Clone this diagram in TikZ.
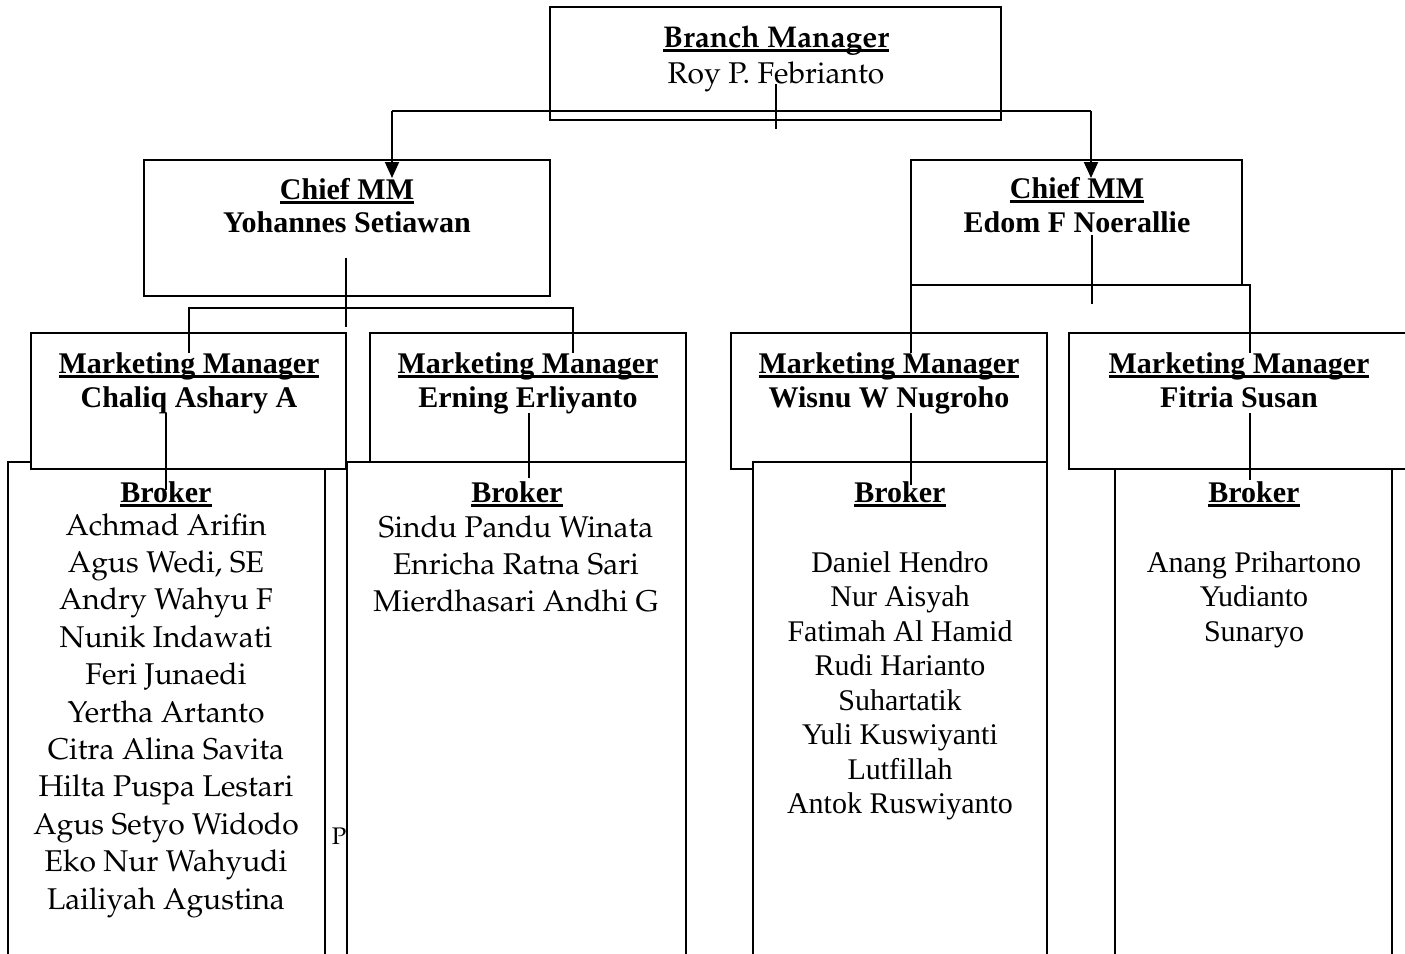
\documentclass[tikz,border=0pt]{standalone}
\usepackage[T1]{fontenc}
\usepackage{fontspec}
\setmainfont{Liberation Serif}
\usetikzlibrary{arrows.meta}

\IfFileExists{t1ppl.fd}
  {\newcommand{\pala}{\fontencoding{T1}\fontfamily{ppl}\selectfont}}
  {\newfontfamily{\pala}[FakeStretch=1.08]{Liberation Serif}}
\newcommand{\undl}[1]{\setbox0=\hbox{#1}\rlap{\copy0}\rule[-2.4pt]{\wd0}{1.2pt}}

\tikzset{
  box/.style={draw, line width=1pt, fill=white, inner sep=0pt},
  txt/.style={anchor=base, inner sep=0pt, font=\fontsize{15}{18}\selectfont},
  pal/.style={anchor=base, inner sep=0pt, font=\pala\fontsize{15}{18}\selectfont},
  link/.style={line width=1pt},
  arr/.style={line width=1pt, -{Triangle[length=8pt,width=7pt]}},
}

\begin{document}
\begin{tikzpicture}[x=0.5pt, y=-0.5pt]
\useasboundingbox (0,0) rectangle (1405,954);
\clip (0,0) rectangle (1405,954);

% Draw the boxes
\node[box, minimum width=225.5pt, minimum height=56.5pt] (bm) at (775.5,63.5) {};
\node[box, minimum width=203pt, minimum height=68pt] (cmL) at (347,228) {};
\node[box, minimum width=165.5pt, minimum height=62.5pt] (cmR) at (1076.5,222.5) {};
\node[box, minimum width=158.5pt, minimum height=254pt] (br1) at (166.5,716) {};
\node[box, minimum width=157.5pt, minimum height=68pt] (mm1) at (188.5,401) {};
\node[box, minimum width=158pt, minimum height=64.5pt] (mm2) at (528,397.5) {};
\node[box, minimum width=169.5pt, minimum height=254pt] (br2) at (516.5,716) {};
\node[box, minimum width=158pt, minimum height=68pt] (mm3) at (889,401) {};
\node[box, minimum width=147pt, minimum height=254pt] (br3) at (900,716) {};
\node[box, minimum width=175.5pt, minimum height=68pt] (mm4) at (1244.5,401) {};
\node[box, minimum width=138.5pt, minimum height=250.5pt] (br4) at (1253.5,719.5) {};

% Titles and names
\node[pal] (bmT) at (776,47) {\bfseries\undl{Branch Manager}};
\node[pal] (bmN) at (776,83) {Roy P. Febrianto};
\node[txt] (cmLT) at (347,199) {\bfseries\undl{Chief MM}};
\node[txt] (cmLN) at (347,232) {\bfseries Yohannes Setiawan};
\node[txt] (cmRT) at (1077,198) {\bfseries\undl{Chief MM}};
\node[txt] (cmRN) at (1077,232) {\bfseries Edom F Noerallie};
\node[txt] (mm1T) at (189,373) {\bfseries\undl{Marketing Manager}};
\node[txt] (mm1N) at (189,407) {\bfseries Chaliq Ashary A};
\node[txt] (mm2T) at (528,373) {\bfseries\undl{Marketing Manager}};
\node[txt] (mm2N) at (528,407) {\bfseries Erning Erliyanto};
\node[txt] (mm3T) at (889,373) {\bfseries\undl{Marketing Manager}};
\node[txt] (mm3N) at (889,407) {\bfseries Wisnu W Nugroho};
\node[txt] (mm4T) at (1239,373) {\bfseries\undl{Marketing Manager}};
\node[txt] (mm4N) at (1239,407) {\bfseries Fitria Susan};
\node[txt] (br1T) at (166,502) {\bfseries\undl{Broker}};
\node[txt] (br2T) at (517,502) {\bfseries\undl{Broker}};
\node[txt] (br3T) at (900,502) {\bfseries\undl{Broker}};
\node[txt] (br4T) at (1254,502) {\bfseries\undl{Broker}};

% Broker lists
\foreach \nm [count=\i from 0] in {Achmad Arifin, {Agus Wedi, SE}, Andry Wahyu F,
    Nunik Indawati, Feri Junaedi, Yertha Artanto, Citra Alina Savita,
    Hilta Puspa Lestari, Agus Setyo Widodo, Eko Nur Wahyudi, Lailiyah Agustina}
  \node[pal] (brA\i) at (166,535+37.4*\i) {\nm};
\foreach \nm [count=\i from 0] in {Sindu Pandu Winata, Enricha Ratna Sari, Mierdhasari Andhi G}
  \node[pal] (brB\i) at (516,537+37.2*\i) {\nm};
\foreach \nm [count=\i from 0] in {Daniel Hendro, Nur Aisyah, Fatimah Al Hamid, Rudi Harianto,
    Suhartatik, Yuli Kuswiyanti, Lutfillah, Antok Ruswiyanto}
  \node[txt] (brC\i) at (900,572+34.5*\i) {\nm};
\foreach \nm [count=\i from 0] in {Anang Prihartono, Yudianto, Sunaryo}
  \node[txt] (brD\i) at (1254,572+34.5*\i) {\nm};
\node[pal, font=\pala\fontsize{12}{14}\selectfont] (stray) at (339,844) {P};

% Connector points
\coordinate (bmS) at (776,84);
\coordinate (bmL) at (392,111);
\coordinate (bmR) at (1091,111);
\coordinate (cmLtip) at (392,178);
\coordinate (cmRtip) at (1091,178);
\coordinate (cmLS) at (346,258);
\coordinate (cmLbus) at (346,308);
\coordinate (cmRS) at (1092,235);
\coordinate (cmRbus) at (1092,285);
\coordinate (mm1in) at (189,353);
\coordinate (mm2in) at (573,353);
\coordinate (mm3in) at (911,353);
\coordinate (mm4in) at (1250,353);

% Draw the connectors
\draw[link] (bmS) -- ++(0,45);
\draw[link] (bmL) -- (bmR);
\draw[arr] (bmL) -- (cmLtip);
\draw[arr] (bmR) -- (cmRtip);
\draw[link] (cmLS) -- ++(0,69);
\draw[link] (mm1in) |- (cmLbus) -| (mm2in);
\draw[link] (cmRS) -- ++(0,69);
\draw[link] (mm3in) |- (cmRbus) -| (mm4in);
\draw[link] (166,413) coordinate (mm1out) -- (166,490) coordinate (br1in);
\draw[link] (529,413) coordinate (mm2out) -- (529,478) coordinate (br2in);
\draw[link] (911,413) coordinate (mm3out) -- (911,485) coordinate (br3in);
\draw[link] (1250,413) coordinate (mm4out) -- (1250,480) coordinate (br4in);
\end{tikzpicture}
\end{document}
